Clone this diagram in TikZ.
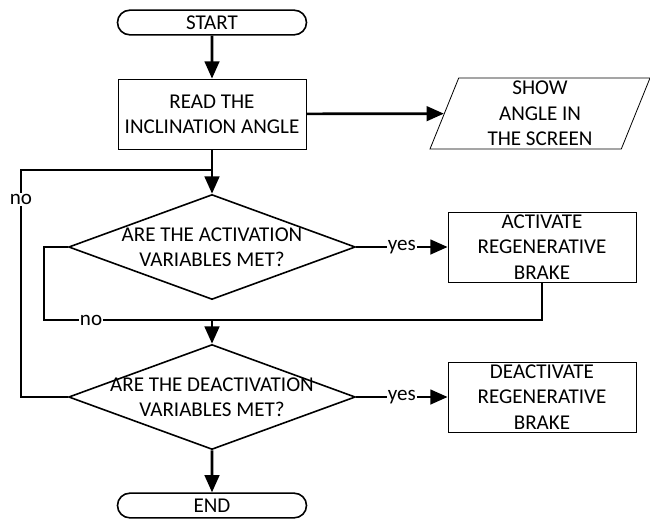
\documentclass[tikz,border=0pt]{standalone}
\usepackage{fontspec}
\setmainfont{Carlito}
\usetikzlibrary{shapes.geometric,shapes.misc,arrows.meta}

\begin{document}
\begin{tikzpicture}[x=0.75pt,y=-0.75pt,
    font=\fontsize{15.8}{19}\selectfont,
    term/.style={draw,line width=1.2pt,rounded rectangle,minimum width=141.75pt,minimum height=18.5pt,inner sep=0pt},
    proc/.style={draw,line width=0.6pt,align=center,minimum width=141pt,minimum height=52.5pt,inner sep=0pt},
    io/.style={draw,line width=0.6pt,trapezium,trapezium left angle=66,trapezium right angle=114,
      trapezium stretches body,minimum width=165pt,minimum height=53.25pt,inner sep=0pt,align=center},
    test/.style={draw,line width=1.2pt,diamond,minimum width=215pt,minimum height=78.75pt,inner sep=0pt},
    wire/.style={line width=2pt},
    flow/.style={line width=2pt,-{Triangle[length=13pt,width=11pt]}},
    lbl/.style={fill=white,inner sep=1pt}]
  \useasboundingbox (0,0) rectangle (650,518);

  \node[term] (start) at (212,22.5) {START};
  \node[proc] (read) at (212,114) {READ THE\\INCLINATION ANGLE};
  \node[io] (show) at (540,113.5) {SHOW\\ANGLE IN\\THE SCREEN};
  \node[test,label={[align=center]center:ARE THE ACTIVATION\\VARIABLES MET?}] (q1) at (212,247) {};
  \node[proc] (act) at (542,247) {ACTIVATE\\REGENERATIVE\\BRAKE};
  \node[test,label={[align=center]center:ARE THE DEACTIVATION\\VARIABLES MET?}] (q2) at (212,397) {};
  \node[proc] (deact) at (542,397) {DEACTIVATE\\REGENERATIVE\\BRAKE};
  \node[term] (end) at (212,505.5) {END};

  % loop points
  \coordinate (j1) at (212,170);
  \coordinate (back) at (21,170);
  \coordinate (j2) at (212,320);
  \coordinate (inner) at (44,320);

  \draw[flow] (start) -- (read);
  \draw[flow] (read) -- (show);
  \draw[flow] (read) -- (q1);
  \draw[flow] (q1) -- node[lbl]{yes} (act);
  \draw[wire] (q1) -| (inner) -- node[lbl,pos=0.28]{no} (j2);
  \draw[wire] (act) |- (j2);
  \draw[flow] (j2) -- (q2);
  \draw[flow] (q2) -- node[lbl]{yes} (deact);
  \draw[wire] (q2) -| node[lbl,pos=0.936]{no} (back) -- (j1);
  \draw[flow] (q2) -- (end);
\end{tikzpicture}
\end{document}
